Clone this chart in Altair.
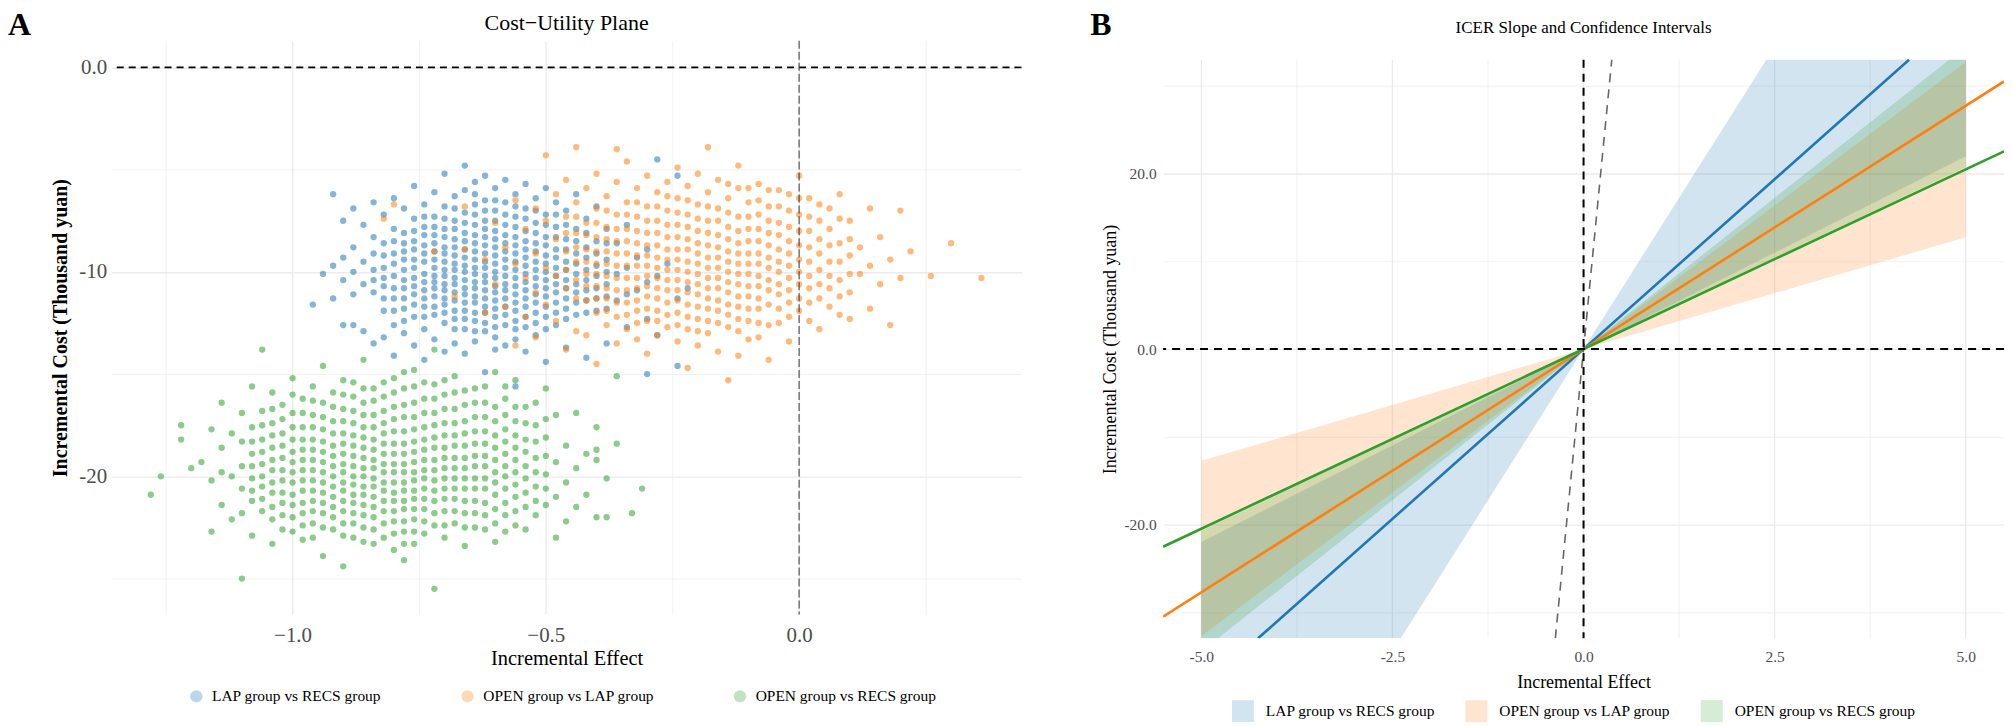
import altair as alt
import pandas as pd

FONT = "Liberation Serif"
GROUPS = ["LAP group vs RECS group", "OPEN group vs LAP group", "OPEN group vs RECS group"]
COLORS = ["#1f77b4", "#ff7f0e", "#2ca02c"]

# ---------------- Panel A: bootstrap scatter, columns of (effect, [costs])
lap_recs_cols = [
    (-0.96, [-11.6]), (-0.94, [-10.1]), (-0.92, [-6.2, -9.7, -11.3]),
    (-0.90, [-7.5, -9.3, -10.4, -12.6]), (-0.88, [-6.9, -8.8, -10.0, -11.1, -12.6]),
    (-0.86, [-7.7, -9.5, -10.6, -12.9]), (-0.84, [-6.6, -8.3, -9.9, -11.0, -13.5]),
    (-0.82, [-7.2, -8.6, -9.8, -10.7, -11.9, -13.2]),
    (-0.80, [-6.4, -7.9, -9.1, -10.2, -11.3, -12.6, -14.1]),
    (-0.78, [-6.9, -8.1, -9.0, -9.9, -10.8, -11.8, -13.0]),
    (-0.76, [-5.8, -7.4, -8.5, -9.4, -10.3, -11.1, -12.2, -13.6]),
    (-0.74, [-6.7, -7.8, -8.7, -9.5, -10.1, -10.9, -11.7, -12.8, -14.3]),
    (-0.72, [-6.1, -7.3, -8.2, -9.0, -9.8, -10.5, -11.2, -12.1, -13.3]),
    (-0.70, [-5.2, -6.8, -7.9, -8.8, -9.5, -10.2, -10.9, -11.6, -12.5, -13.9]),
    (-0.68, [-6.3, -7.5, -8.4, -9.2, -9.9, -10.6, -11.4, -12.3, -13.5]),
    (-0.66, [-4.8, -6.0, -7.1, -8.1, -8.9, -9.7, -10.4, -11.1, -11.9, -12.8, -14.0]),
    (-0.64, [-5.6, -6.7, -7.7, -8.6, -9.4, -10.1, -10.8, -11.5, -12.4, -13.4]),
    (-0.62, [-5.3, -6.5, -7.5, -8.3, -9.1, -9.8, -10.5, -11.3, -12.0, -12.9, -14.9]),
    (-0.60, [-5.9, -7.0, -8.0, -8.8, -9.6, -10.3, -11.0, -11.8, -12.7, -13.8]),
    (-0.58, [-5.5, -6.6, -7.7, -8.6, -9.4, -10.2, -10.9, -11.7, -12.6, -13.6]),
    (-0.56, [-6.2, -7.3, -8.3, -9.1, -9.9, -10.7, -11.5, -12.4, -13.3, -15.6]),
    (-0.54, [-5.7, -6.9, -8.0, -8.9, -9.7, -10.5, -11.3, -12.2, -13.9]),
    (-0.52, [-6.4, -7.6, -8.6, -9.5, -10.3, -11.1, -12.0, -13.1]),
    (-0.50, [-5.9, -7.2, -8.3, -9.2, -10.0, -10.8, -11.7, -12.8, -14.4]),
    (-0.48, [-6.6, -7.8, -8.9, -9.8, -10.6, -11.5, -12.6]),
    (-0.46, [-7.0, -8.4, -9.5, -10.4, -11.3, -12.3, -13.7]),
    (-0.44, [-6.2, -7.9, -9.1, -10.1, -11.0, -12.1]),
    (-0.42, [-7.4, -8.8, -9.9, -10.9, -12.0, -14.2]),
    (-0.40, [-6.8, -8.5, -9.7, -10.8, -11.9]),
    (-0.38, [-7.9, -9.4, -10.6, -11.8, -13.5]),
    (-0.36, [-8.6, -10.1, -11.4]), (-0.34, [-7.7, -9.8, -11.1, -12.7]),
    (-0.32, [-9.3, -10.9]), (-0.30, [-8.9, -10.5, -12.3, -15.0]),
    (-0.28, [-4.5, -10.2, -13.1]), (-0.26, [-9.6]), (-0.24, [-5.3, -11.3, -14.6]),
    (-0.22, [-10.8]),
]
lap_recs_core = [
    (-0.84, [-9.1, -10.4]), (-0.82, [-9.2, -10.3, -11.3]), (-0.80, [-8.5, -9.6, -10.8, -11.9]),
    (-0.78, [-8.6, -9.4, -10.4, -11.3, -12.4]), (-0.76, [-8.0, -8.9, -9.8, -10.7, -11.6]),
    (-0.74, [-7.3, -8.2, -9.1, -10.5, -11.3, -12.2]), (-0.72, [-7.8, -8.6, -9.4, -10.2, -10.8, -11.7]),
    (-0.70, [-7.4, -8.3, -9.1, -9.9, -10.6, -11.3, -12.0]),
    (-0.68, [-6.9, -7.9, -8.8, -9.6, -10.3, -11.0, -11.9, -12.8]),
    (-0.66, [-7.6, -8.5, -9.3, -10.0, -10.8, -11.5, -12.3]),
    (-0.64, [-6.2, -7.2, -8.2, -9.0, -9.8, -10.5, -11.2, -12.0, -12.9]),
    (-0.62, [-7.0, -7.9, -8.7, -9.5, -10.2, -10.9, -11.7, -12.5]),
    (-0.60, [-6.5, -7.5, -8.4, -9.2, -10.0, -10.7, -11.4, -12.2, -13.2]),
    (-0.58, [-7.2, -8.2, -9.0, -9.8, -10.6, -11.3, -12.1]),
    (-0.56, [-6.8, -7.8, -8.7, -9.5, -10.3, -11.1, -11.9, -12.8]),
    (-0.54, [-7.4, -8.5, -9.3, -10.1, -10.9, -11.7, -12.7]),
    (-0.52, [-7.0, -8.1, -9.0, -9.9, -10.7, -11.5, -12.5]),
    (-0.50, [-7.7, -8.7, -9.6, -10.4, -11.2, -12.2]), (-0.48, [-7.2, -8.3, -9.3, -10.2, -11.0, -12.0]),
    (-0.46, [-7.7, -8.9, -9.9, -10.8, -11.8]), (-0.44, [-8.5, -9.6, -10.6, -11.5]),
    (-0.42, [-8.1, -9.3, -10.4, -11.4]), (-0.40, [-9.1, -10.2, -11.3]), (-0.38, [-8.6, -10.0, -11.2]),
]
open_lap_cols = [
    (-0.82, [-7.4]), (-0.80, [-6.7]), (-0.72, [-9.0]), (-0.68, [-11.2]),
    (-0.66, [-6.8, -8.9]), (-0.62, [-9.4, -12.0]), (-0.60, [-7.6, -10.6]),
    (-0.58, [-8.8, -11.7]), (-0.56, [-6.5, -9.6, -13.6]), (-0.54, [-7.9, -10.3, -12.2]),
    (-0.52, [-6.9, -9.1, -11.0, -13.2]), (-0.50, [-4.3, -7.5, -9.8, -11.6]),
    (-0.48, [-6.2, -8.4, -10.2, -12.4]), (-0.46, [-5.5, -7.3, -9.0, -10.8, -13.8]),
    (-0.44, [-3.9, -6.6, -8.1, -9.5, -11.3, -12.9]),
    (-0.42, [-5.9, -7.6, -8.9, -10.1, -11.4, -13.1]),
    (-0.40, [-5.2, -6.9, -8.3, -9.6, -10.7, -12.0, -14.5]),
    (-0.38, [-6.3, -7.8, -9.0, -10.2, -11.3, -12.6]),
    (-0.36, [-4.0, -5.6, -7.2, -8.5, -9.7, -10.9, -12.2, -13.5]),
    (-0.34, [-4.6, -6.6, -7.9, -9.1, -10.3, -11.5, -12.8]),
    (-0.32, [-5.9, -7.3, -8.6, -9.7, -10.8, -11.9, -13.3]),
    (-0.30, [-5.3, -6.8, -8.1, -9.2, -10.2, -11.2, -12.4, -14.0]),
    (-0.28, [-6.1, -7.5, -8.7, -9.8, -10.8, -11.9, -13.1]),
    (-0.26, [-5.6, -7.0, -8.3, -9.4, -10.4, -11.5, -12.7]),
    (-0.24, [-4.9, -6.4, -7.7, -8.9, -9.9, -10.9, -12.0, -13.4]),
    (-0.22, [-5.8, -7.2, -8.4, -9.5, -10.5, -11.6, -12.8, -14.7]),
    (-0.20, [-5.2, -6.7, -8.0, -9.1, -10.1, -11.1, -12.3, -13.6]),
    (-0.18, [-3.9, -6.1, -7.5, -8.7, -9.8, -10.8, -11.8, -13.0]),
    (-0.16, [-5.5, -6.9, -8.2, -9.3, -10.3, -11.4, -12.5, -13.9]),
    (-0.14, [-6.4, -7.8, -9.0, -10.0, -11.0, -12.1, -15.3]),
    (-0.12, [-4.8, -5.9, -7.3, -8.6, -9.6, -10.6, -11.7, -12.9, -14.1]),
    (-0.10, [-6.6, -7.9, -9.1, -10.1, -11.2, -12.4]),
    (-0.08, [-5.7, -7.2, -8.5, -9.6, -10.7, -11.8, -13.2]),
    (-0.06, [-6.8, -8.1, -9.3, -10.4, -11.6, -14.3]),
    (-0.04, [-6.0, -7.6, -8.9, -10.0, -11.1, -12.5]),
    (-0.02, [-7.0, -8.5, -9.7, -10.9, -12.2]),
    (0.00, [-5.3, -6.4, -8.0, -9.4, -10.6, -11.9]),
    (0.02, [-7.3, -8.8, -10.2, -11.5]), (0.04, [-6.7, -8.4, -9.9, -11.3, -12.8]),
    (0.06, [-7.9, -9.5, -10.8]), (0.08, [-6.2, -8.6, -10.4, -12.1]),
    (0.10, [-7.5, -9.2, -11.0]), (0.12, [-8.8, -10.1]), (0.14, [-6.9, -9.7, -11.8]),
    (0.16, [-8.3, -10.6]), (0.18, [-9.4, -12.6]), (0.20, [-7.0, -10.3]),
    (0.22, [-9.0]), (0.26, [-10.2]), (0.30, [-8.6]), (0.36, [-10.3]),
]
open_lap_core = [
    (-0.46, [-8.1, -9.9]), (-0.44, [-7.3, -8.8, -10.4]), (-0.42, [-8.2, -9.5, -10.7]),
    (-0.40, [-7.6, -9.0, -10.1, -11.3]), (-0.38, [-7.0, -8.4, -9.6, -10.8, -11.9]),
    (-0.36, [-7.9, -9.1, -10.3, -11.5]), (-0.34, [-7.2, -8.5, -9.7, -10.9, -12.1]),
    (-0.32, [-6.6, -8.0, -9.2, -10.3, -11.4, -12.5]), (-0.30, [-7.5, -8.7, -9.7, -10.7, -11.8]),
    (-0.28, [-6.8, -8.1, -9.3, -10.3, -11.3, -12.4]), (-0.26, [-6.3, -7.7, -8.9, -9.9, -10.9, -12.1]),
    (-0.24, [-7.1, -8.3, -9.4, -10.4, -11.4, -12.6]), (-0.22, [-6.5, -7.8, -8.9, -10.0, -11.0, -12.2]),
    (-0.20, [-7.4, -8.6, -9.6, -10.6, -11.7, -12.9]), (-0.18, [-6.8, -8.1, -9.3, -10.3, -11.3, -12.4]),
    (-0.16, [-7.5, -8.8, -9.8, -10.8, -11.9]), (-0.14, [-5.7, -7.1, -8.4, -9.5, -10.5, -11.6, -12.7]),
    (-0.12, [-8.0, -9.1, -10.1, -11.2, -12.3]), (-0.10, [-5.9, -7.3, -8.5, -9.6, -10.7, -11.8, -13.3]),
    (-0.08, [-6.5, -7.9, -9.1, -10.2, -11.3, -12.5]), (-0.06, [-6.0, -7.5, -8.7, -9.8, -10.9, -12.6]),
    (-0.04, [-6.8, -8.2, -9.5, -10.6, -11.8]), (-0.02, [-6.2, -7.8, -9.1, -10.3, -11.5, -13.4]),
    (0.00, [-7.2, -8.7, -10.0, -11.3]), (0.02, [-6.4, -8.0, -9.5, -10.8, -12.4]),
    (0.04, [-7.5, -9.1, -10.6]), (0.06, [-6.9, -8.7, -10.2, -11.7]), (0.08, [-7.4, -9.5, -11.2]),
    (0.10, [-8.4, -10.1, -12.3]),
]
open_recs_cols = [
    (-1.28, [-20.9]), (-1.26, [-20.0]), (-1.22, [-17.5, -18.2]), (-1.20, [-19.6]),
    (-1.18, [-19.3]), (-1.16, [-17.7, -20.2, -22.7]), (-1.14, [-16.4, -18.6, -19.8, -21.4]),
    (-1.12, [-17.9, -20.0, -22.1]), (-1.10, [-16.9, -18.3, -19.5, -20.6, -21.8, -25.0]),
    (-1.08, [-15.6, -17.6, -18.9, -20.1, -21.2, -22.9]),
    (-1.06, [-13.8, -16.8, -18.2, -19.4, -20.5, -21.7]),
    (-1.04, [-15.9, -17.4, -18.6, -19.7, -20.8, -22.1, -23.3]),
    (-1.02, [-16.5, -17.9, -19.1, -20.2, -21.3, -22.6]),
    (-1.00, [-15.2, -16.9, -18.2, -19.3, -20.3, -21.4, -22.7]),
    (-0.98, [-16.2, -17.6, -18.7, -19.7, -20.7, -21.8, -23.1]),
    (-0.96, [-15.6, -17.0, -18.2, -19.2, -20.2, -21.2, -22.3]),
    (-0.94, [-14.6, -16.4, -17.7, -18.8, -19.8, -20.8, -21.8, -23.9]),
    (-0.92, [-15.9, -17.3, -18.5, -19.5, -20.5, -21.5, -22.6]),
    (-0.90, [-15.3, -16.7, -17.9, -18.9, -19.8, -20.7, -21.7, -22.9, -24.4]),
    (-0.88, [-16.1, -17.4, -18.5, -19.5, -20.4, -21.3, -22.3]),
    (-0.86, [-14.3, -15.7, -17.0, -18.1, -19.1, -20.0, -20.9, -21.9, -23.2]),
    (-0.84, [-16.3, -17.6, -18.7, -19.6, -20.5, -21.5, -22.6]),
    (-0.82, [-15.4, -16.8, -17.9, -18.9, -19.8, -20.7, -21.7, -23.0]),
    (-0.80, [-15.9, -17.2, -18.4, -19.4, -20.3, -21.2, -22.2, -23.6]),
    (-0.78, [-14.9, -16.5, -17.8, -18.9, -19.8, -20.7, -21.6, -22.7, -24.1]),
    (-0.76, [-15.6, -17.1, -18.3, -19.3, -20.2, -21.1, -22.1, -23.3]),
    (-0.74, [-16.2, -17.6, -18.7, -19.7, -20.6, -21.6, -22.8]),
    (-0.72, [-13.8, -15.5, -16.9, -18.1, -19.2, -20.2, -21.2, -22.4, -25.5]),
    (-0.70, [-16.0, -17.4, -18.6, -19.6, -20.6, -21.7, -23.0]),
    (-0.68, [-15.1, -16.7, -18.0, -19.1, -20.1, -21.1, -22.3]),
    (-0.66, [-15.8, -17.3, -18.5, -19.6, -20.6, -21.8, -23.4]),
    (-0.64, [-16.4, -17.8, -19.0, -20.1, -21.2, -22.5]),
    (-0.62, [-15.6, -17.1, -18.4, -19.5, -20.6, -21.9]),
    (-0.60, [-14.9, -16.6, -18.0, -19.2, -20.3, -21.6, -23.2]),
    (-0.58, [-16.2, -17.7, -18.9, -20.0, -21.3, -22.7]),
    (-0.56, [-15.3, -17.3, -18.6, -19.8, -21.0, -22.4]),
    (-0.54, [-16.6, -18.2, -19.5, -20.8, -22.6]),
    (-0.52, [-17.5, -19.1, -20.5, -21.9]), (-0.50, [-15.7, -18.1, -19.9, -21.4]),
    (-0.48, [-17.0, -19.3, -21.0, -23.0]), (-0.46, [-18.5, -20.3, -22.2]),
    (-0.44, [-16.9, -19.6, -21.5]), (-0.42, [-18.9, -20.9]),
    (-0.40, [-17.6, -18.7, -19.2, -22.0]), (-0.38, [-20.1, -22.0]),
    (-0.36, [-15.1, -18.4]), (-0.33, [-21.8]), (-0.31, [-20.6]),
]
open_recs_core = [
    (-1.08, [-18.3, -19.5, -20.7]), (-1.06, [-17.5, -18.8, -20.0, -21.1]),
    (-1.04, [-16.7, -18.0, -19.2, -20.3, -21.5]), (-1.02, [-17.2, -18.5, -19.7, -20.8, -21.9]),
    (-1.00, [-16.0, -17.6, -18.8, -19.8, -20.9, -22.0]), (-0.98, [-16.9, -18.2, -19.2, -20.2, -21.3, -22.4]),
    (-0.96, [-16.3, -17.6, -18.7, -19.7, -20.7, -21.7, -23.0]),
    (-0.94, [-17.1, -18.3, -19.3, -20.3, -21.3, -22.5]), (-0.92, [-16.6, -17.9, -19.0, -20.0, -21.0, -22.0]),
    (-0.90, [-16.0, -17.3, -18.4, -19.4, -20.3, -21.2, -22.3]),
    (-0.88, [-15.4, -16.8, -18.0, -19.0, -20.0, -20.9, -21.8, -23.0]),
    (-0.86, [-16.4, -17.6, -18.6, -19.6, -20.5, -21.4, -22.5]),
    (-0.84, [-15.7, -17.0, -18.2, -19.2, -20.1, -21.0, -22.0, -23.3]),
    (-0.82, [-16.1, -17.4, -18.4, -19.4, -20.3, -21.2, -22.3]),
    (-0.80, [-15.2, -16.6, -17.8, -18.9, -19.8, -20.8, -21.7, -22.8]),
    (-0.78, [-15.7, -17.1, -18.4, -19.4, -20.3, -21.2, -22.2, -23.3]),
    (-0.76, [-14.8, -16.4, -17.7, -18.8, -19.8, -20.7, -21.6, -22.7]),
    (-0.74, [-15.4, -16.9, -18.2, -19.2, -20.1, -21.1, -22.2]),
    (-0.72, [-16.2, -17.5, -18.6, -19.7, -20.7, -21.8]),
    (-0.70, [-15.3, -16.7, -18.0, -19.1, -20.1, -21.1, -22.4]),
    (-0.68, [-15.9, -17.4, -18.5, -19.6, -20.6, -21.7]),
    (-0.66, [-16.5, -17.9, -19.1, -20.1, -21.2, -22.5]),
    (-0.64, [-15.7, -17.1, -18.4, -19.5, -20.6, -21.8]),
    (-0.62, [-16.4, -17.8, -19.0, -20.1, -21.3, -22.6]),
    (-0.60, [-17.3, -18.6, -19.8, -20.9, -22.3]), (-0.58, [-15.6, -17.0, -18.3, -19.5, -20.6, -21.9]),
    (-0.56, [-16.6, -18.0, -19.2, -20.4, -21.7]), (-0.54, [-17.4, -18.8, -20.1, -21.5]),
    (-0.52, [-16.4, -18.3, -19.8, -21.2]), (-0.50, [-17.2, -19.0, -20.6]),
]

# ---------------- Panel B: ICER slopes and CI slopes (thousand yuan per unit effect)
icer_slope = [7.75, 5.55, 4.1]
ci_low = [4.4, 2.55, 4.15]
ci_high = [13.8, 6.55, 6.9]
ribbon_x = [-5.0, 0.0, 5.0]
line_x = [-5.5, 5.5]
wtp_slope = 89.4

A_x_ticks = [-1.25, -1.0, -0.75, -0.5, -0.25, 0.0, 0.25]
A_y_ticks = [-25, -20, -15, -10, -5, 0]
B_x_ticks = [-5.0, -3.75, -2.5, -1.25, 0.0, 1.25, 2.5, 3.75, 5.0]
B_y_ticks = [-30, -20, -10, 0, 10, 20, 30]
B_ylim = 33.0

# ---------------- build tables
rows = []
for g, parts in zip(GROUPS, [(lap_recs_cols, lap_recs_core), (open_lap_cols, open_lap_core),
                             (open_recs_cols, open_recs_core)]):
    for cols in parts:
        for x, ys in cols:
            for y in ys:
                rows.append({"group": g, "effect": x, "cost": y, "gi": GROUPS.index(g)})
scatter_df = pd.DataFrame(rows).sort_values("gi", kind="stable")


def clampy(v):
    return max(-B_ylim, min(B_ylim, v))


rib_rows, line_rows = [], []
for g, s, lo, hi in zip(GROUPS, icer_slope, ci_low, ci_high):
    # add the points where the CI edges leave the panel, so the clipped wedge stays exact
    xs = set(ribbon_x)
    for k in (lo, hi):
        for sign in (-1, 1):
            xc = sign * B_ylim / k
            if ribbon_x[0] < xc < ribbon_x[-1]:
                xs.add(xc)
    for x in sorted(xs):
        a, b = clampy(lo * x), clampy(hi * x)
        rib_rows.append({"group": g, "x": x, "lo": min(a, b), "hi": max(a, b)})
    xe = min(line_x[1], B_ylim / s)
    for x in (-xe, xe):
        line_rows.append({"group": g, "x": x, "y": s * x})
rib_df = pd.DataFrame(rib_rows)
line_df = pd.DataFrame(line_rows)
xw = B_ylim / wtp_slope
wtp_df = pd.DataFrame({"x": [-xw, xw], "y": [-B_ylim, B_ylim]})

GRID = "#ebebeb"
MINUS = "\u2212"
WA, HA = 912, 575
WB = 843
HB_VIEW, B_TOP = 599, 19   # panel B plot spans 19..599 inside its view

# ---------------- Panel A
xA_scale = alt.Scale(domain=[-1.357, 0.439], nice=False, zero=False)
yA_scale = alt.Scale(domain=[-26.75, 1.3], nice=False, zero=False)
a_major_x = "abs(datum.value*2 - round(datum.value*2)) < 0.000001"
a_major_y = "datum.value % 10 == 0"

axA_x = alt.Axis(values=A_x_ticks, title="Incremental Effect",
                 labelExpr=f"{a_major_x} ? (datum.value < 0 ? '{MINUS}' : '') + format(abs(datum.value), '.1f') : ''",
                 grid=True, gridColor=GRID,
                 gridWidth={"condition": {"test": a_major_x, "value": 1.3}, "value": 0.7},
                 ticks=False, domain=False, labelFont=FONT, labelFontSize=21, labelColor="#4d4d4d",
                 labelPadding=10, titleFont=FONT, titleFontSize=20.5, titleFontWeight="normal",
                 titleColor="black", titlePadding=3)
axA_y = alt.Axis(values=A_y_ticks, title="Incremental Cost (Thousand yuan)",
                 labelExpr=f"datum.value == 0 ? '0.0' : ({a_major_y} ? '-' + format(abs(datum.value), 'd') : '')",
                 grid=True, gridColor=GRID,
                 gridWidth={"condition": {"test": a_major_y, "value": 1.3}, "value": 0.7},
                 ticks=False, domain=False, labelFont=FONT, labelFontSize=21, labelColor="#4d4d4d",
                 labelPadding=5, titleFont=FONT, titleFontSize=20, titleFontWeight="bold",
                 titleColor="black", titlePadding=8)

scatter = alt.Chart(scatter_df).mark_circle(size=40, opacity=0.55).encode(
    x=alt.X("effect:Q", scale=xA_scale, axis=axA_x),
    y=alt.Y("cost:Q", scale=yA_scale, axis=axA_y),
    color=alt.Color("group:N", scale=alt.Scale(domain=GROUPS, range=COLORS),
                    legend=alt.Legend(title=None, orient="none", legendX=77, legendY=649,
                                      direction="horizontal", symbolType="circle",
                                      symbolSize=150, symbolOpacity=0.3, symbolStrokeWidth=0,
                                      labelFont=FONT, labelFontSize=15.5, labelColor="black",
                                      labelLimit=400, labelOffset=8, columnPadding=78)),
)
hA = alt.Chart(pd.DataFrame({"v": [0.0]})).mark_rule(color="black", strokeDash=[7, 5], strokeWidth=1.6).encode(
    y=alt.Y("v:Q", scale=yA_scale, title="Incremental Cost (Thousand yuan)"))
vA = alt.Chart(pd.DataFrame({"v": [0.0]})).mark_rule(color="#444444", strokeDash=[8, 3], strokeWidth=1.1).encode(
    x=alt.X("v:Q", scale=xA_scale, title="Incremental Effect"))
tagA = alt.Chart(pd.DataFrame({"t": ["A"]})).mark_text(
    font=FONT, fontSize=32, fontWeight="bold", align="left", baseline="middle", color="black"
).encode(text="t:N", x=alt.value(-104), y=alt.value(-16))
titleA = alt.Chart(pd.DataFrame({"t": ["Cost\u2212Utility Plane"]})).mark_text(
    font=FONT, fontSize=22, fontWeight="normal", align="center", baseline="middle", color="black"
).encode(text="t:N", x=alt.value(WA / 2), y=alt.value(-18))

panelA = alt.layer(scatter, hA, vA, tagA, titleA).properties(width=WA, height=HA)

# ---------------- Panel B
xB_scale = alt.Scale(domain=[-5.5, 5.5], nice=False, zero=False)
yB_scale = alt.Scale(domain=[-B_ylim, B_ylim], nice=False, zero=False, range=[HB_VIEW, B_TOP])
b_major_x = "abs(datum.value/2.5 - round(datum.value/2.5)) < 0.000001"
b_major_y = "datum.value % 20 == 0"
axB_x = alt.Axis(values=B_x_ticks, title="Incremental Effect",
                 labelExpr=f"{b_major_x} ? (datum.value < 0 ? '-' : '') + format(abs(datum.value), '.1f') : ''",
                 grid=False, ticks=False, domain=False, labelFont=FONT, labelFontSize=15.5,
                 labelColor="#4d4d4d", labelPadding=11, titleFont=FONT, titleFontSize=18,
                 titleFontWeight="normal", titleColor="black", titlePadding=9)
axB_y = alt.Axis(values=B_y_ticks, title="Incremental Cost (Thousand yuan)",
                 labelExpr=f"{b_major_y} ? (datum.value < 0 ? '-' : '') + format(abs(datum.value), '.1f') : ''",
                 grid=True, gridColor=GRID,
                 gridWidth={"condition": {"test": b_major_y, "value": 1.3}, "value": 0.7},
                 ticks=False, domain=False, labelFont=FONT, labelFontSize=15.5, labelColor="#4d4d4d",
                 labelPadding=7, titleFont=FONT, titleFontSize=18, titleFontWeight="normal",
                 titleColor="black", titlePadding=4)

gridB = alt.Chart(pd.DataFrame({"v": B_x_ticks})).transform_calculate(
    major=f"abs(datum.v/2.5 - round(datum.v/2.5)) < 0.000001"
).mark_rule(color=GRID).encode(
    x=alt.X("v:Q", scale=xB_scale, axis=axB_x),
    y=alt.value(B_TOP), y2=alt.value(HB_VIEW),
    strokeWidth=alt.condition("datum.major", alt.value(1.3), alt.value(0.7)),
)
ribbons = alt.Chart(rib_df).mark_area(opacity=0.2, clip=True).encode(
    x=alt.X("x:Q", scale=xB_scale, title="Incremental Effect"),
    y=alt.Y("lo:Q", scale=yB_scale, axis=axB_y, stack=None),
    y2="hi:Q",
    fill=alt.Fill("group:N", scale=alt.Scale(domain=GROUPS, range=COLORS),
                  legend=alt.Legend(title=None, orient="none", legendX=69, legendY=661,
                                    direction="horizontal", symbolType="square",
                                    symbolSize=484, symbolOpacity=0.2, symbolStrokeWidth=0,
                                    labelFont=FONT, labelFontSize=15.5, labelColor="black",
                                    labelLimit=400, labelOffset=12, columnPadding=30)),
)
lines = alt.Chart(line_df).mark_line(strokeWidth=2.6, clip=True).encode(
    x=alt.X("x:Q", scale=xB_scale, title="Incremental Effect"),
    y=alt.Y("y:Q", scale=yB_scale, title="Incremental Cost (Thousand yuan)"),
    color=alt.Color("group:N", scale=alt.Scale(domain=GROUPS, range=COLORS), legend=None),
)
wtp = alt.Chart(wtp_df).mark_line(color="#666666", strokeDash=[9, 7], strokeWidth=1.6, clip=True).encode(
    x=alt.X("x:Q", scale=xB_scale, title="Incremental Effect"),
    y=alt.Y("y:Q", scale=yB_scale, title="Incremental Cost (Thousand yuan)"),
)
hB = alt.Chart(pd.DataFrame({"v": [0.0]})).mark_rule(color="black", strokeDash=[8, 6], strokeWidth=2).encode(
    y=alt.Y("v:Q", scale=yB_scale, title="Incremental Cost (Thousand yuan)"))
vB = alt.Chart(pd.DataFrame({"v": [0.0]})).mark_rule(color="black", strokeDash=[8, 6], strokeWidth=2).encode(
    x=alt.X("v:Q", scale=xB_scale, title="Incremental Effect"),
    y=alt.value(B_TOP), y2=alt.value(HB_VIEW))
tagB = alt.Chart(pd.DataFrame({"t": ["B"]})).mark_text(
    font=FONT, fontSize=32, fontWeight="bold", align="left", baseline="middle", color="black"
).encode(text="t:N", x=alt.value(-73), y=alt.value(-16))
titleB = alt.Chart(pd.DataFrame({"t": ["ICER Slope and Confidence Intervals"]})).mark_text(
    font=FONT, fontSize=17, fontWeight="normal", align="center", baseline="middle", color="black"
).encode(text="t:N", x=alt.value(WB / 2), y=alt.value(-13))

panelB = alt.layer(gridB, ribbons, lines, wtp, hB, vB, tagB, titleB).properties(
    width=WB, height=HB_VIEW).resolve_scale(color="independent", fill="independent")

chart = alt.hconcat(panelA, panelB, spacing=68).resolve_scale(
    color="independent", fill="independent"
).properties(padding=0, background="white").configure_view(stroke=None)

chart.save("out.html", embed_options={"renderer": "svg", "actions": False})
